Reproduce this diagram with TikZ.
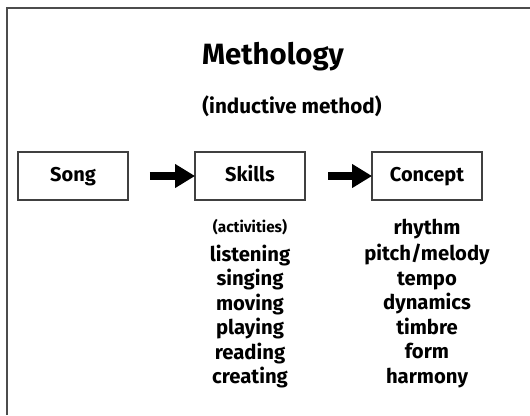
\documentclass[tikz,border=0pt]{standalone}
\usepackage{fontspec}
\setmainfont{Fira Sans}
\usetikzlibrary{arrows.meta}
\begin{document}
\begin{tikzpicture}[x=0.75pt,y=-0.75pt,
  every node/.style={inner sep=0pt},
  boxnode/.style={draw=black!75, line width=0.9pt, minimum width=82.5pt, minimum height=36pt, text height=11pt, text depth=3pt, font=\bfseries\fontsize{15}{18}\selectfont},
  listitem/.style={anchor=base, font=\bfseries\fontsize{15.2}{18}\selectfont},
  fatarrow/.style={line width=6pt, -{Triangle[length=15pt,width=17pt]}, shorten >=-0.5pt}]
\useasboundingbox (0,0) rectangle (530,415);
\draw[black!70, line width=1pt] (7,415) -- (7,8) -- (530,8);
\node[anchor=base, font=\bfseries\fontsize{22}{28}\selectfont] (title) at (273,64) {Methology};
\node[anchor=base, font=\bfseries\fontsize{15.5}{18}\selectfont] (sub) at (292,113) {(inductive method)};
\node[boxnode] (song) at (73,176) {Song};
\node[boxnode] (skills) at (250,176) {Skills};
\node[boxnode] (concept) at (427,176) {Concept};
\draw[fatarrow] ([xshift=16pt]song.east) -- (skills.west);
\draw[fatarrow] ([xshift=17pt]skills.east) -- (concept.west);
\node[anchor=base, font=\bfseries\fontsize{11.5}{14}\selectfont] (act) at (250,232) {(activities)};
\node[listitem] (s1) at (250,261) {listening};
\node[listitem] (s2) at (250,285.5) {singing};
\node[listitem] (s3) at (250,310) {moving};
\node[listitem] (s4) at (250,334.5) {playing};
\node[listitem] (s5) at (250,359) {reading};
\node[listitem] (s6) at (250,383.5) {creating};
\node[listitem] (c1) at (427,234) {rhythm};
\node[listitem] (c2) at (427,260) {pitch/melody};
\node[listitem] (c3) at (427,285) {tempo};
\node[listitem] (c4) at (427,309.5) {dynamics};
\node[listitem] (c5) at (427,334) {timbre};
\node[listitem] (c6) at (427,358.5) {form};
\node[listitem] (c7) at (427,383) {harmony};
\end{tikzpicture}
\end{document}
